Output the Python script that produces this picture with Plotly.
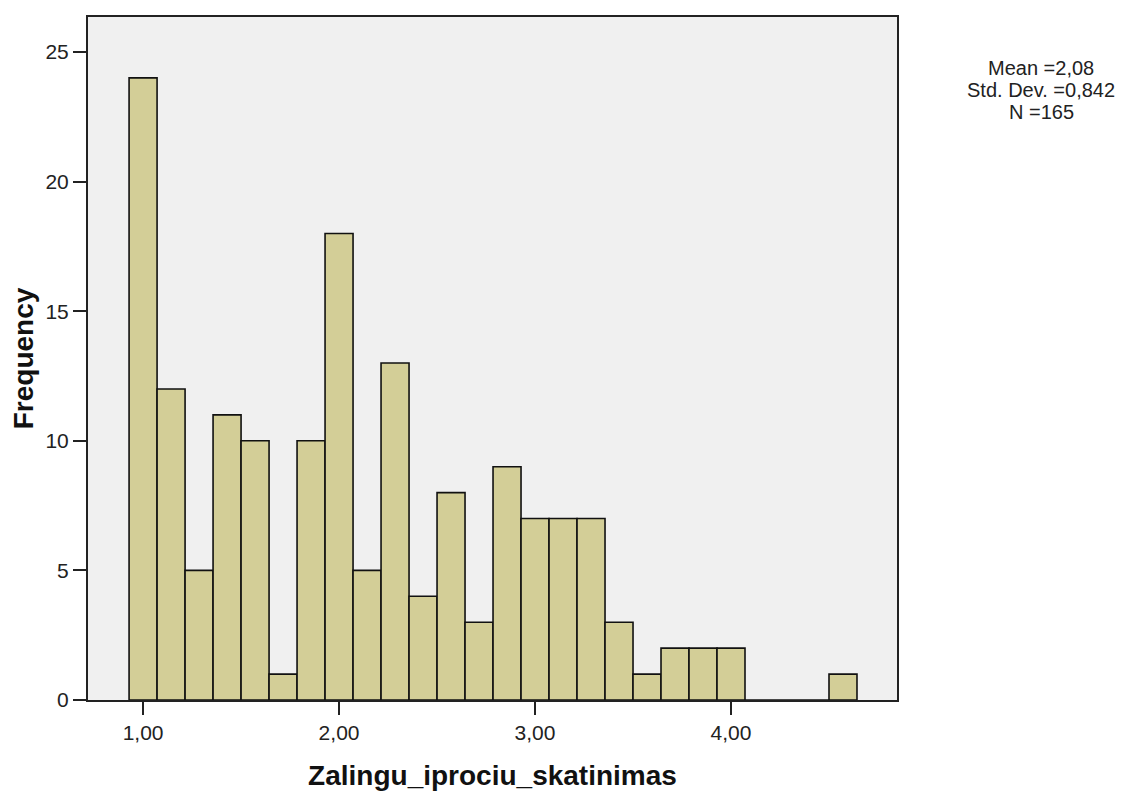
import plotly.graph_objects as go

# Histogram data (SPSS style): bin start value, bin width, counts per bin
bin_start = 1.0
bin_width = 1.0 / 7.0
counts = [24, 12, 5, 11, 10, 1, 10, 18, 5, 13, 4, 8, 3, 9, 7, 7, 7, 3, 1, 2, 2, 2, 0, 0, 0, 1]
x_tick_vals = [1, 2, 3, 4]
x_tick_text = ["1,00", "2,00", "3,00", "4,00"]
y_tick_vals = [0, 5, 10, 15, 20, 25]
stats_lines = ["Mean =2,08", "Std. Dev. =0,842", "N =165"]

centers = [bin_start + i * bin_width for i in range(len(counts))]

fig = go.Figure()
fig.add_trace(go.Bar(
    x=centers, y=counts, width=bin_width,
    marker=dict(color="#D3CE97", line=dict(color="#111", width=1.6)),
    showlegend=False, hoverinfo="x+y",
))

font = "Arial, Liberation Sans, sans-serif"
L, R, T, B = 80, 238, 7, 102
W, H = 1127, 794
pw, ph = W - L - R, H - T - B

fig.update_layout(
    width=W, height=H,
    margin=dict(l=L, r=R, t=T, b=B),
    paper_bgcolor="white", plot_bgcolor="#F0F0F0",
    font=dict(family=font, size=20, color="#222"),
    xaxis=dict(range=[0.719, 4.847], tickvals=x_tick_vals, ticktext=x_tick_text,
               showgrid=False, zeroline=False, showline=True, mirror=True,
               linecolor="#222", linewidth=2, ticks="outside", ticklen=13, tickwidth=2,
               tickcolor="#222", tickfont=dict(size=21, family=font, color="#222"),
               title=dict(text="<b>Zalingu_iprociu_skatinimas</b>",
                          font=dict(size=28, family=font, color="#111"), standoff=22)),
    yaxis=dict(range=[0, 26.35], tickvals=y_tick_vals,
               showgrid=False, zeroline=False, showline=True, mirror=True,
               linecolor="#222", linewidth=2, ticks="outside", ticklen=13, tickwidth=2,
               tickcolor="#222", tickfont=dict(size=21, family=font, color="#222"),
               title=dict(text="<b>Frequency</b>",
                          font=dict(size=28, family=font, color="#111"), standoff=5)),
)

# stats box lines (page pixel centers, body offset of 8 px removed)
line_centers = [66.5, 88.5, 110]
for txt, yc in zip(stats_lines, line_centers):
    fy = yc - 8
    fig.add_annotation(text=txt, x=(1041 - 8 - L) / pw, y=(T + ph - fy) / ph,
                       xref="paper", yref="paper", showarrow=False,
                       xanchor="center", yanchor="middle",
                       font=dict(size=20, family=font, color="#222"))

fig.write_html("out.html")
